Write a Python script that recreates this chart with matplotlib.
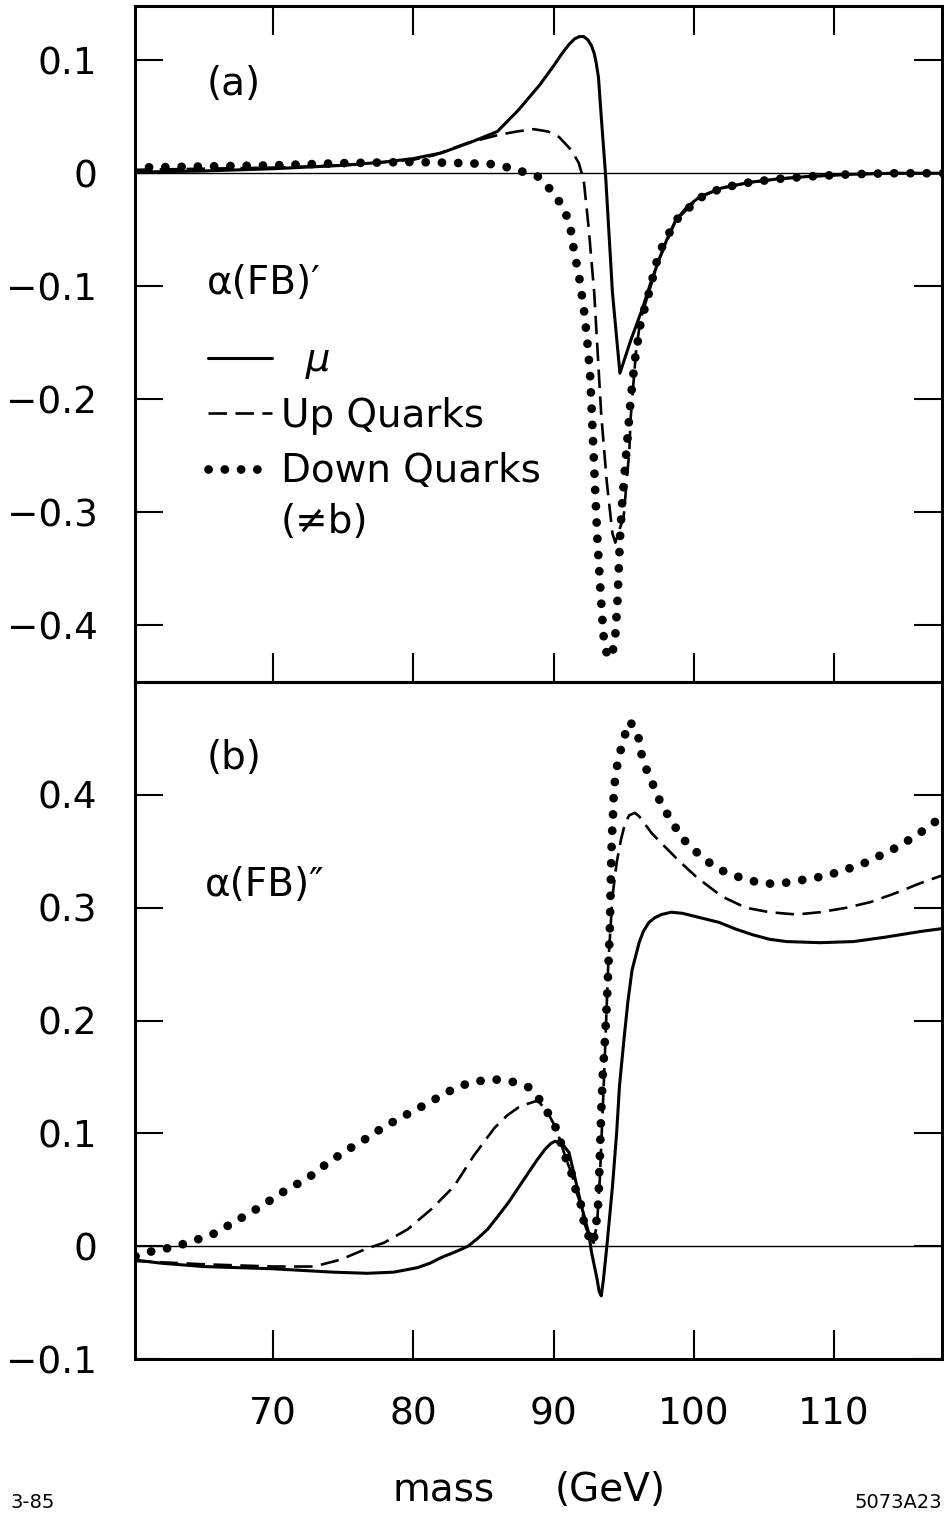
import matplotlib
matplotlib.use("Agg")
import matplotlib.pyplot as plt

# ---- data (mass in GeV) ----
# panel (a): alpha(FB)'
mu_a_x = [60, 65, 70, 75, 78, 80, 82, 84, 86, 87.5, 89, 90, 90.6, 91.1, 91.5, 91.85,
          92.15, 92.45, 92.7, 92.9, 93.05, 93.2, 93.4, 93.7, 94.2, 94.73, 95.5, 96.3,
          96.9, 97.5, 98.1, 98.7, 99.5, 100.4, 102, 104, 106, 108, 111, 114, 118]
mu_a_y = [0.001, 0.002, 0.004, 0.007, 0.010, 0.013, 0.018, 0.027, 0.037, 0.056, 0.078,
          0.095, 0.106, 0.114, 0.119, 0.121, 0.121, 0.118, 0.113, 0.106, 0.097, 0.085,
          0.050, 0.0, -0.106, -0.177, -0.148, -0.121, -0.098, -0.077, -0.058, -0.042,
          -0.030, -0.021, -0.013, -0.008, -0.005, -0.003, -0.001, 0.0, 0.0]

up_a_x = [60, 65, 70, 75, 80, 81.5, 83.9, 86.1, 87.4, 88.6, 89.6, 90.4, 91.3, 91.8,
          92.15, 92.5, 92.9, 93.4, 93.8, 94.2, 94.4, 95.0, 95.2, 95.4, 95.5, 95.7, 95.9,
          96.2, 96.5, 97.5, 98.7, 100.4, 102, 104, 106, 108, 111, 114, 118]
up_a_y = [0.003, 0.004, 0.005, 0.007, 0.012, 0.016, 0.027, 0.034, 0.037, 0.039, 0.037,
          0.032, 0.020, 0.009, -0.006, -0.048, -0.106, -0.214, -0.274, -0.319, -0.327,
          -0.304, -0.274, -0.246, -0.216, -0.185, -0.155, -0.130, -0.117, -0.077, -0.042,
          -0.021, -0.013, -0.008, -0.005, -0.003, -0.001, 0.0, 0.0]

down_a_x = [60, 65, 70, 75, 80, 83.4, 85.8, 86.8, 87.9, 88.9, 89.6, 90.2, 90.8, 91.2,
            91.45, 91.8, 92.15, 92.4, 92.6, 92.72, 92.86, 93.0, 93.15, 93.3, 93.45, 93.6,
            93.85, 94.15, 94.4, 94.55, 94.65, 94.75, 94.9, 95.1, 95.3, 95.5, 95.8, 96.2,
            96.8, 97.5, 98.7, 99.7, 100.4, 102, 104, 106, 108, 111, 114, 118]
down_a_y = [0.005, 0.006, 0.007, 0.009, 0.010, 0.009, 0.008, 0.005, 0.001, -0.003,
            -0.012, -0.021, -0.033, -0.048, -0.068, -0.090, -0.119, -0.148, -0.177,
            -0.210, -0.250, -0.290, -0.330, -0.360, -0.390, -0.415, -0.428, -0.428,
            -0.410, -0.380, -0.350, -0.320, -0.290, -0.260, -0.230, -0.200, -0.165,
            -0.133, -0.106, -0.071, -0.042, -0.030, -0.022, -0.013, -0.008, -0.005,
            -0.003, -0.001, 0.0, 0.0]

# panel (b): alpha(FB)''
mu_b_x = [60, 62, 65, 70, 74.3, 76.7, 78.6, 80.3, 81.2, 82.0, 83.0, 83.9, 84.6, 85.3,
          86.0, 86.8, 87.5, 88.2, 88.8, 89.4, 89.8, 90.1, 90.6, 91.1, 91.5, 92.0, 92.5,
          92.7, 93.1, 93.25, 93.4, 93.55, 93.8, 94.2, 94.5, 94.7, 95.0, 95.3, 95.6, 96.1,
          96.4, 96.8, 97.2, 97.7, 98.4, 99.2, 100.5, 101.8, 103, 104.2, 105.4, 106.6,
          109.0, 111.4, 113.7, 116.2, 118]
mu_b_y = [-0.012, -0.015, -0.018, -0.020, -0.023, -0.024, -0.023, -0.019, -0.015, -0.010,
          -0.005, 0.0, 0.007, 0.015, 0.026, 0.039, 0.052, 0.065, 0.076, 0.086, 0.091,
          0.093, 0.091, 0.083, 0.062, 0.035, 0.012, -0.005, -0.029, -0.040, -0.044,
          -0.030, 0.0, 0.053, 0.101, 0.142, 0.181, 0.217, 0.245, 0.269, 0.279, 0.287,
          0.291, 0.294, 0.296, 0.295, 0.291, 0.287, 0.281, 0.276, 0.272, 0.270, 0.269,
          0.270, 0.274, 0.279, 0.282]

up_b_x = [60, 65, 70, 72.9, 74.8, 76.7, 77.9, 79.6, 81.3, 82.9, 84.3, 85.8, 86.7, 87.5,
          88.1, 88.6, 88.9, 89.6, 90.2, 90.9, 91.3, 91.6, 92.0, 92.2, 92.6, 92.85, 93.1,
          93.3, 93.6, 93.9, 94.2, 94.5, 94.8, 95.1, 95.4, 95.8, 96.1, 97.0, 97.7, 98.9,
          100.2, 102.0, 103.7, 105.4, 107.3, 109.0, 110.9, 112.6, 114.4, 116.2, 117.8]
up_b_y = [-0.013, -0.016, -0.018, -0.018, -0.012, -0.002, 0.003, 0.015, 0.033, 0.053,
          0.080, 0.105, 0.116, 0.123, 0.126, 0.128, 0.129, 0.118, 0.104, 0.077, 0.064,
          0.049, 0.035, 0.020, 0.007, 0.003, 0.020, 0.060, 0.150, 0.250, 0.310, 0.340,
          0.360, 0.375, 0.382, 0.384, 0.381, 0.366, 0.357, 0.342, 0.327, 0.310, 0.300,
          0.296, 0.294, 0.296, 0.300, 0.305, 0.313, 0.322, 0.329]

down_b_x = [60.2, 61.5, 62.8, 63.9, 65.1, 66.2, 67.1, 68.2, 69.2, 70.1, 71.2, 72.2, 73.1,
            73.9, 74.9, 75.9, 77.0, 77.9, 79.0, 80.0, 81.1, 82.2, 83.3, 84.5, 85.7, 87.0,
            88.2, 89.0, 89.6, 90.2, 90.9, 91.3, 91.6, 92.0, 92.2, 92.6, 92.8, 93.0, 93.2,
            93.3, 93.4, 93.5, 93.65, 93.8, 93.9, 94.0, 94.05, 94.1, 94.15, 94.25, 94.3,
            94.5, 94.75, 95.05, 95.45, 95.8, 96.1, 96.3, 96.7, 97.2, 97.6, 98.2, 98.8,
            99.5, 100.4, 101.3, 102.3, 103.5, 104.7, 105.8, 107.1, 108.3, 109.4, 110.6,
            111.9, 112.9, 114.1, 115.2, 116.2, 117.3, 118]
down_b_y = [-0.009, -0.004, -0.001, 0.003, 0.008, 0.013, 0.021, 0.028, 0.036, 0.043,
            0.052, 0.058, 0.066, 0.074, 0.082, 0.090, 0.098, 0.106, 0.113, 0.120, 0.127,
            0.135, 0.142, 0.146, 0.148, 0.146, 0.141, 0.130, 0.118, 0.104, 0.077, 0.064,
            0.049, 0.035, 0.018, 0.006, 0.002, 0.015, 0.040, 0.080, 0.120, 0.150, 0.180,
            0.216, 0.245, 0.275, 0.305, 0.335, 0.360, 0.385, 0.405, 0.424, 0.438, 0.452,
            0.465, 0.458, 0.449, 0.434, 0.420, 0.406, 0.394, 0.381, 0.369, 0.357, 0.347,
            0.338, 0.331, 0.326, 0.322, 0.321, 0.323, 0.326, 0.328, 0.333, 0.338, 0.344,
            0.351, 0.359, 0.367, 0.377, 0.383]

xticks = [70, 80, 90, 100, 110]
xlabels = ["70", "80", "90", "100", "110"]
top_yticks = [0.1, 0, -0.1, -0.2, -0.3, -0.4]
top_ylabels = ["0.1", "0", "\u22120.1", "\u22120.2", "\u22120.3", "\u22120.4"]
bot_yticks = [0.4, 0.3, 0.2, 0.1, 0, -0.1]
bot_ylabels = ["0.4", "0.3", "0.2", "0.1", "0", "\u22120.1"]

plt.rcParams["font.family"] = ["DejaVu Sans"]

fig = plt.figure(figsize=(9.44, 15.19), dpi=100)
ax1 = fig.add_axes([0.143, 0.551, 0.855, 0.4450])
ax2 = fig.add_axes([0.143, 0.1053, 0.855, 0.4457])

solid = dict(color="black", lw=2.2, solid_capstyle="round", solid_joinstyle="round")
dashed = dict(color="black", lw=1.9, linestyle=(0, (7, 3.2)))
dotted = dict(color="black", lw=6.3, linestyle=(0, (0.01, 1.85)), dash_capstyle="round")

for ax in (ax1, ax2):
    ax.axhline(0, color="black", lw=1.0, zorder=1)
    for side in ax.spines.values():
        side.set_linewidth(2.2)
    ax.set_xlim(60.16, 117.7)

l_mu, = ax1.plot(mu_a_x, mu_a_y, **solid)
l_up, = ax1.plot(up_a_x, up_a_y, **dashed)
l_dn, = ax1.plot(down_a_x, down_a_y, **dotted)
ax1.set_ylim(-0.4504, 0.148)

ax2.plot(mu_b_x, mu_b_y, **solid)
ax2.plot(up_b_x, up_b_y, **dashed)
ax2.plot(down_b_x, down_b_y, **dotted)
ax2.set_ylim(-0.099, 0.5)

ax1.set_xticks(xticks, [])
ax1.set_yticks(top_yticks, top_ylabels)
ax1.tick_params(axis="x", direction="in", length=21, width=1.5, top=True, bottom=True)
ax1.tick_params(axis="y", direction="in", length=20, width=1.5, left=True, right=True,
                labelsize=27, pad=27)

ax2.set_xticks(xticks, xlabels)
ax2.set_yticks(bot_yticks, bot_ylabels)
ax2.tick_params(axis="x", direction="in", length=21, width=1.5, top=False, bottom=True,
                labelsize=27, pad=27)
ax2.tick_params(axis="y", direction="in", length=20, width=1.5, left=True, right=True,
                labelsize=27, pad=27)

ax1.text(0.089, 0.885, "(a)", transform=ax1.transAxes, fontsize=28, va="center")
ax1.text(0.089, 0.59, "\u03b1(FB)\u2032", transform=ax1.transAxes, fontsize=28, va="center")
ax2.text(0.089, 0.888, "(b)", transform=ax2.transAxes, fontsize=28, va="center")
ax2.text(0.087, 0.70, "\u03b1(FB)\u2033", transform=ax2.transAxes, fontsize=28, va="center")

leg = ax1.legend([l_mu, l_up, l_dn], ["  \u03bc", "Up Quarks", "Down Quarks"],
                 loc="upper left", bbox_to_anchor=(0.0905, 0.504), frameon=False,
                 fontsize=28, handlelength=1.65, handletextpad=0.23, labelspacing=0.45,
                 borderpad=0, borderaxespad=0)
leg.get_texts()[0].set_fontstyle("italic")
ax1.text(0.18, 0.237, "(\u2260b)", transform=ax1.transAxes, fontsize=28, va="center")

fig.text(393 / 944, 1 - 1490 / 1519, "mass", fontsize=28, va="center")
fig.text(555 / 944, 1 - 1490 / 1519, "(GeV)", fontsize=28, va="center")
fig.text(10 / 944, 1 - 1502 / 1519, "3-85", fontsize=14, va="center")
fig.text(942 / 944, 1 - 1502 / 1519, "5073A23", fontsize=14, va="center", ha="right")

fig.savefig("out.png", dpi=100)
